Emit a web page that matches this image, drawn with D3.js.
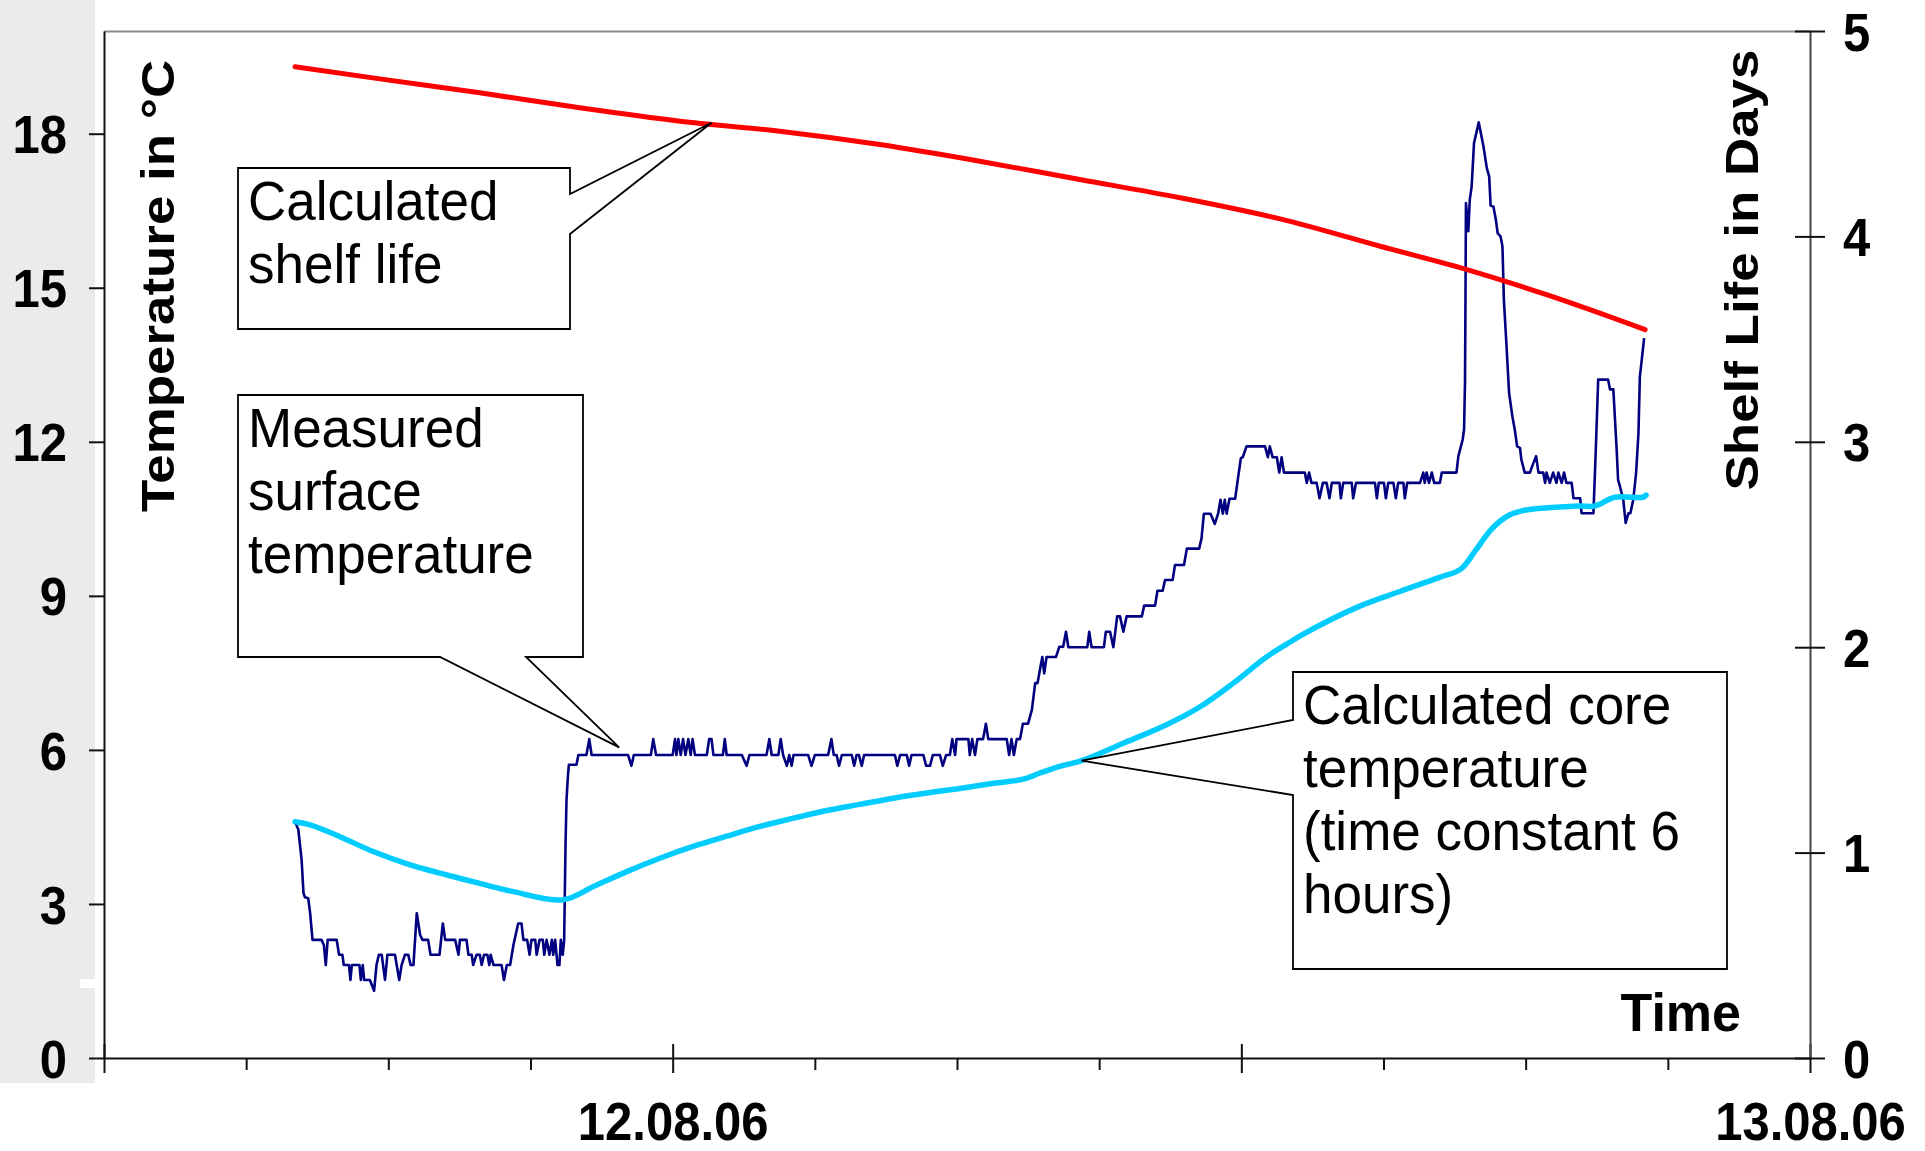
<!DOCTYPE html>
<html>
<head>
<meta charset="utf-8">
<script src="https://cdn.jsdelivr.net/npm/d3@7"></script>
<style>
  body { margin: 0; background: #fff; }
  svg { display: block; }
</style>
</head>
<body>
<svg width="1925" height="1151"></svg>
<script>
// times are hours counted from 11.08.06 00:00

// measured surface temperature, deg C (logger steps)
const surfaceTemp = [
  [16.03,4.60],[16.10,4.45],[16.17,3.86],[16.21,3.21],[16.24,3.13],[16.31,3.11],[16.35,2.82],[16.40,2.30],[16.59,2.30],[16.64,2.20],
  [16.68,1.81],[16.72,2.30],[16.91,2.30],[16.96,2.01],[17.03,2.01],[17.06,1.81],[17.17,1.81],[17.20,1.52],[17.23,1.81],[17.39,1.81],
  [17.42,1.52],[17.46,1.81],[17.49,1.52],[17.61,1.52],[17.70,1.31],[17.75,1.81],[17.80,2.01],[17.86,2.01],[17.93,1.52],[17.98,2.01],
  [18.14,2.01],[18.23,1.52],[18.28,1.81],[18.35,2.01],[18.42,2.01],[18.47,1.81],[18.53,1.81],[18.60,2.82],[18.67,2.40],[18.72,2.30],
  [18.84,2.30],[18.89,2.01],[19.08,2.01],[19.15,2.62],[19.20,2.30],[19.41,2.30],[19.48,2.01],[19.51,2.30],[19.65,2.30],[19.69,2.01],
  [19.76,2.01],[19.79,1.81],[19.86,2.01],[19.93,2.01],[19.97,1.81],[20.02,2.01],[20.09,2.01],[20.13,1.81],[20.16,2.01],[20.22,1.81],
  [20.39,1.81],[20.44,1.52],[20.50,1.81],[20.57,1.81],[20.64,2.20],[20.74,2.62],[20.81,2.62],[20.85,2.30],[20.93,2.30],[20.98,2.01],
  [21.02,2.30],[21.10,2.30],[21.13,2.01],[21.19,2.30],[21.26,2.30],[21.29,2.01],[21.34,2.30],[21.40,2.01],[21.45,2.30],[21.48,2.01],
  [21.52,2.30],[21.57,1.81],[21.61,1.81],[21.64,2.30],[21.68,2.01],[21.71,2.30],
  [21.74,4.20],[21.76,5.03],[21.79,5.50],[21.81,5.71],[21.97,5.71],[22.01,5.90],[22.18,5.90],[22.24,6.21],[22.29,5.90],[23.06,5.90],
  [23.13,5.69],[23.18,5.90],[23.54,5.90],[23.59,6.21],[23.65,5.90],[24.00,5.90],[24.05,6.21],[24.08,5.90],[24.12,6.21],[24.17,5.90],
  [24.22,6.21],[24.27,5.90],[24.33,6.21],[24.38,5.90],[24.42,6.21],[24.47,5.90],[24.72,5.90],[24.77,6.21],[24.82,6.21],[24.86,5.90],
  [25.06,5.90],[25.10,6.21],[25.14,5.90],[25.46,5.90],[25.56,5.69],[25.62,5.90],[25.98,5.90],[26.04,6.21],[26.09,5.90],[26.23,5.90],
  [26.28,6.21],[26.33,5.90],[26.41,5.69],[26.46,5.90],[26.51,5.69],[26.55,5.90],[26.86,5.90],[26.93,5.69],[27.00,5.90],[27.28,5.90],
  [27.35,6.21],[27.40,5.90],[27.46,5.90],[27.51,5.69],[27.57,5.90],[27.78,5.90],[27.83,5.69],[27.88,5.90],[27.93,5.90],[27.99,5.69],
  [28.04,5.90],[28.69,5.90],[28.74,5.69],[28.80,5.90],[28.94,5.90],[28.99,5.69],[29.04,5.90],[29.29,5.90],[29.35,5.69],[29.43,5.69],
  [29.49,5.90],[29.64,5.90],[29.70,5.69],[29.77,5.90],[29.85,5.90],[29.90,6.21],[29.96,5.90],[29.99,6.21],[30.24,6.21],[30.27,5.90],
  [30.32,6.21],[30.38,5.90],[30.43,6.21],[30.55,6.21],[30.61,6.51],[30.66,6.21],[31.05,6.21],[31.10,5.90],[31.15,6.21],[31.20,5.90],
  [31.26,6.21],[31.33,6.21],[31.39,6.51],[31.50,6.51],
  [31.58,6.78],[31.65,7.30],[31.70,7.30],[31.75,7.56],[31.80,7.81],[31.84,7.49],[31.89,7.81],[32.09,7.81],[32.16,8.01],[32.24,8.01],
  [32.30,8.30],[32.35,8.00],[32.75,8.00],[32.79,8.30],[32.84,8.00],[33.10,8.00],[33.14,8.30],[33.23,8.30],[33.30,8.00],[33.38,8.60],
  [33.44,8.60],[33.51,8.30],[33.58,8.60],[33.90,8.60],[33.95,8.81],[34.18,8.81],[34.23,9.10],[34.34,9.10],[34.39,9.31],[34.55,9.31],
  [34.60,9.60],[34.79,9.60],[34.85,9.92],[35.11,9.92],[35.16,10.12],[35.21,10.60],[35.35,10.60],[35.44,10.40],[35.51,10.60],[35.56,10.87],
  [35.61,10.60],[35.65,10.87],[35.69,10.60],[35.75,10.89],[35.87,10.89],[35.92,11.23],[35.99,11.68],[36.03,11.70],[36.11,11.91],[36.50,11.91],
  [36.56,11.70],[36.60,11.91],[36.66,11.70],[36.75,11.70],[36.80,11.40],[36.85,11.70],[36.90,11.40],
  [37.34,11.40],[37.38,11.20],[37.43,11.40],[37.48,11.20],[37.59,11.20],[37.65,10.90],[37.72,11.20],[37.80,11.20],[37.86,10.90],[37.91,11.20],
  [38.07,11.20],[38.10,10.90],[38.15,11.20],[38.33,11.20],[38.36,10.90],[38.42,11.20],[38.82,11.20],[38.86,10.90],[38.90,11.20],[39.01,11.20],
  [39.05,10.90],[39.10,11.20],[39.21,11.20],[39.26,10.90],[39.31,11.20],[39.42,11.20],[39.45,10.90],[39.50,11.20],[39.77,11.20],[39.84,11.40],
  [39.87,11.20],[39.91,11.40],[39.96,11.20],[40.02,11.40],[40.07,11.20],[40.19,11.20],[40.23,11.40],[40.54,11.40],[40.58,11.72],[40.67,12.04],
  [40.70,12.24],[40.72,13.17],[40.73,14.77],[40.74,16.65],[40.79,16.10],[40.82,16.71],[40.86,16.97],[40.91,17.82],[41.01,18.22],[41.11,17.75],
  [41.18,17.33],[41.23,17.17],[41.26,16.60],[41.32,16.58],[41.37,16.33],[41.41,16.06],[41.47,16.00],[41.51,15.81],[41.54,14.77],[41.60,13.80],
  [41.65,12.95],[41.72,12.49],[41.77,12.24],[41.82,11.91],[41.88,11.88],[41.91,11.65],[41.98,11.40],[42.09,11.40],[42.16,11.58],[42.22,11.72],
  [42.27,11.40],[42.37,11.40],[42.41,11.20],[42.44,11.40],[42.51,11.20],[42.58,11.40],[42.65,11.20],[42.69,11.40],[42.76,11.20],[42.81,11.40],
  [42.86,11.20],[42.97,11.20],[43.01,10.90],[43.15,10.90],[43.18,10.61],[43.43,10.61],[43.48,11.85],[43.53,13.21],[43.74,13.21],[43.78,13.02],
  [43.85,13.02],[43.92,11.85],[43.95,11.26],[43.99,11.13],[44.06,10.87],[44.11,10.42],[44.17,10.61],[44.21,10.61],[44.27,10.87],[44.33,11.39],
  [44.38,12.17],[44.41,13.27],[44.45,13.60],[44.50,14.02]
];

// calculated core temperature, deg C
const coreTemp = [
  [16.03,4.60],[16.35,4.54],[16.98,4.31],[17.68,4.02],[18.46,3.76],[19.09,3.60],[19.93,3.40],[20.64,3.24],[21.69,3.08],[22.33,3.34],
  [23.03,3.63],[23.73,3.89],[24.43,4.12],[25.14,4.32],[25.84,4.51],[26.55,4.67],[27.25,4.82],[27.95,4.94],[28.66,5.06],[29.36,5.16],
  [30.06,5.25],[30.77,5.35],[31.40,5.43],[31.75,5.55],[32.17,5.68],[32.63,5.79],[33.51,6.13],[34.42,6.49],[35.13,6.84],[35.83,7.30],
  [36.53,7.81],[37.10,8.14],[37.24,8.22],[38.45,8.78],[39.36,9.09],[40.18,9.36],[40.63,9.52],[40.94,9.88],[41.27,10.29],[41.61,10.55],
  [41.94,10.66],[43.12,10.75],[43.46,10.75],[43.88,10.92],[44.47,10.92],[44.54,10.96]
];

// calculated shelf life, days
const shelfLife = [
  [16.03,4.826],[17.82,4.767],[19.93,4.699],[22.04,4.626],[24.15,4.561],[26.26,4.512],[28.37,4.447],[30.48,4.366],
  [32.59,4.277],[34.71,4.188],[36.82,4.085],[38.93,3.952],[40.76,3.838],[42.44,3.716],[44.52,3.546]
];

const tempTicks = [0, 3, 6, 9, 12, 15, 18];
const lifeTicks = [0, 1, 2, 3, 4, 5];

const noteShelf = ["Calculated", "shelf life"];
const noteSurface = ["Measured", "surface", "temperature"];
const noteCore = ["Calculated core", "temperature", "(time constant 6", "hours)"];

const svg = d3.select("svg");
const font = "'Liberation Sans', Arial, Helvetica, sans-serif";

const day0 = new Date(2006, 7, 11);
const at = h => new Date(+day0 + h * 36e5);

const x = d3.scaleTime().domain([at(12), at(48)]).range([104, 1810]);
const yTemp = d3.scaleLinear().domain([0, 20]).range([1058, 31]);
const yLife = d3.scaleLinear().domain([0, 5]).range([1058, 31]);

// grey strip behind the left labels
svg.append("rect")
    .attr("x", 0).attr("y", 0)
    .attr("width", 95).attr("height", 1083)
    .attr("fill", "#ebebeb");
svg.append("rect")
    .attr("x", 80).attr("y", 979)
    .attr("width", 15).attr("height", 9)
    .attr("fill", "#fff");

// top border
svg.append("line")
    .attr("x1", 104).attr("x2", 1810)
    .attr("y1", 31.5).attr("y2", 31.5)
    .attr("stroke", "#8c8c8c")
    .attr("stroke-width", 2);

// axes
const hours = d3.timeHour.every(3).range(at(12), at(48.5));
const dayFmt = d3.timeFormat("%d.%m.%y");

const xAxis = svg.append("g")
    .attr("transform", "translate(0,1058)")
    .call(d3.axisBottom(x)
        .tickValues(hours)
        .tickSize(12)
        .tickSizeOuter(0)
        .tickFormat(d => d.getHours() === 0 && +d > +at(12) ? dayFmt(d) : ""));
xAxis.selectAll(".tick line")
    .filter(d => d.getHours() % 12 === 0)
    .attr("y1", -14).attr("y2", 15);
xAxis.selectAll(".tick text")
    .attr("y", 0).attr("dy", 0)
    .attr("transform", "translate(0,82) scale(1,1.08)");

const leftAxis = svg.append("g")
    .attr("transform", "translate(104,0)")
    .call(d3.axisLeft(yTemp).tickValues(tempTicks).tickSize(15).tickSizeOuter(0).tickPadding(22));

const rightAxis = svg.append("g")
    .attr("transform", "translate(1810,0)")
    .call(d3.axisRight(yLife).tickValues(lifeTicks).tickSize(15).tickSizeOuter(0).tickPadding(18)
        .tickFormat(d3.format("d")));
rightAxis.selectAll(".tick line").attr("x1", -15);

[leftAxis, rightAxis].forEach(g => {
    g.selectAll(".tick text")
        .attr("dy", "0.355em")
        .attr("transform", "scale(1,1.1)");
});

[xAxis, leftAxis, rightAxis].forEach(g => {
    g.attr("color", "#111");
    g.selectAll("path, line").attr("stroke-width", 2);
    g.selectAll("text")
        .attr("font-family", font)
        .attr("font-size", 49)
        .attr("font-weight", "bold")
        .attr("fill", "#000");
});
rightAxis.select(".domain").attr("stroke", "#444");

// axis titles
svg.append("text")
    .attr("transform", "translate(173.5,286) rotate(-90) scale(1.15,1)")
    .attr("text-anchor", "middle")
    .attr("font-family", font)
    .attr("font-size", 46)
    .attr("font-weight", "bold")
    .text("Temperature in °C");

svg.append("text")
    .attr("transform", "translate(1757.5,270) rotate(-90) scale(1.15,1)")
    .attr("text-anchor", "middle")
    .attr("font-family", font)
    .attr("font-size", 46)
    .attr("font-weight", "bold")
    .text("Shelf Life in Days");

svg.append("text")
    .attr("transform", "translate(1741,1031) scale(1,1.04)")
    .attr("text-anchor", "end")
    .attr("font-family", font)
    .attr("font-size", 52)
    .attr("font-weight", "bold")
    .text("Time");

// series
const lineTemp = d3.line().x(d => x(at(d[0]))).y(d => yTemp(d[1]));
const lineCore = d3.line().x(d => x(at(d[0]))).y(d => yTemp(d[1])).curve(d3.curveCatmullRom.alpha(0.5));
const lineLife = d3.line().x(d => x(at(d[0]))).y(d => yLife(d[1])).curve(d3.curveMonotoneX);

svg.append("path")
    .datum(surfaceTemp)
    .attr("d", lineTemp)
    .attr("fill", "none")
    .attr("stroke", "#000080")
    .attr("stroke-width", 2.6)
    .attr("stroke-linejoin", "round");

svg.append("path")
    .datum(coreTemp)
    .attr("d", lineCore)
    .attr("fill", "none")
    .attr("stroke", "#00ccff")
    .attr("stroke-width", 5.5)
    .attr("stroke-linejoin", "round")
    .attr("stroke-linecap", "round");

svg.append("path")
    .datum(shelfLife)
    .attr("d", lineLife)
    .attr("fill", "none")
    .attr("stroke", "#ff0000")
    .attr("stroke-width", 5)
    .attr("stroke-linejoin", "round")
    .attr("stroke-linecap", "round");

// callout boxes: box = [left, top, right, bottom], gap = where the pointer leaves the box
const notes = [
    { lines: noteShelf, box: [238, 168, 570, 329], side: "right", gap: [194, 234],
      tip: [x(at(24.82)), yLife(4.553)] },
    { lines: noteSurface, box: [238, 395, 583, 657], side: "bottom", gap: [526, 440],
      tip: [x(at(22.87)), yTemp(6.05)] },
    { lines: noteCore, box: [1293, 672, 1727, 969], side: "left", gap: [795, 720],
      tip: [x(at(32.63)), yTemp(5.79)] }
];

notes.forEach(n => {
    const [l, t, r, b] = n.box;
    let pts;
    if (n.side === "right") {
        pts = [[l, t], [r, t], [r, n.gap[0]], n.tip, [r, n.gap[1]], [r, b], [l, b]];
    } else if (n.side === "bottom") {
        pts = [[l, t], [r, t], [r, b], [n.gap[0], b], n.tip, [n.gap[1], b], [l, b]];
    } else {
        pts = [[l, t], [r, t], [r, b], [l, b], [l, n.gap[0]], n.tip, [l, n.gap[1]]];
    }
    svg.append("path")
        .attr("d", "M" + pts.join("L") + "Z")
        .attr("fill", "#fff")
        .attr("stroke", "#000")
        .attr("stroke-width", 1.8)
        .attr("stroke-linejoin", "miter");

    svg.append("g")
        .selectAll("text")
        .data(n.lines)
        .join("text")
        .attr("transform", (d, i) => `translate(${l + 10},${t + 52 + i * 63}) scale(1,1.06)`)
        .attr("font-family", font)
        .attr("font-size", 53)
        .attr("fill", "#000")
        .text(d => d);
});
</script>
</body>
</html>
